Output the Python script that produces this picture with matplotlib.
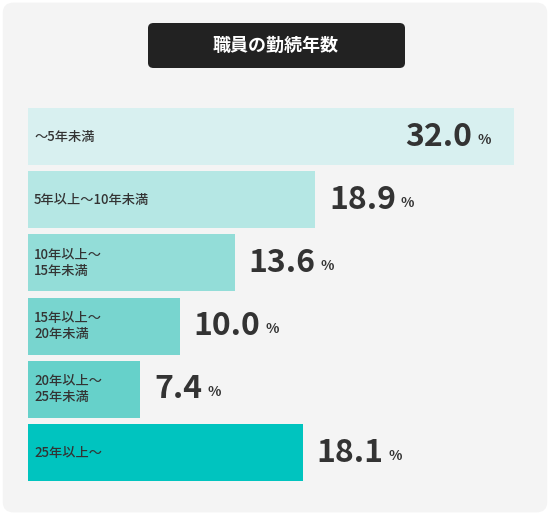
import matplotlib.pyplot as plt
from matplotlib.patches import FancyBboxPatch

plt.rcParams['font.family'] = ['Noto Sans CJK JP', 'DejaVu Sans']

labels = ['〜5年未満', '5年以上〜10年未満', '10年以上〜\n15年未満', '15年以上〜\n20年未満', '20年以上〜\n25年未満', '25年以上〜']
values = [32.0, 18.9, 13.6, 10.0, 7.4, 18.1]
colors = ['#d8f0f0', '#b5e7e4', '#93ddd8', '#78d5cf', '#66d1ca', '#00c4bf']

W, H = 550, 515
fig = plt.figure(figsize=(W / 100, H / 100), dpi=100)
fig.patch.set_facecolor('white')
bg = FancyBboxPatch((0.005, 0.005), 0.99, 0.99, boxstyle='round,pad=0,rounding_size=0.02',
                    transform=fig.transFigure, facecolor='#f4f4f4', edgecolor='none', zorder=-5)
fig.patches.append(bg)
tb = FancyBboxPatch((148 / W, 1 - 68 / H), 257 / W, 45 / H, boxstyle='round,pad=0,rounding_size=0.01',
                    transform=fig.transFigure, facecolor='#222222', edgecolor='none', zorder=-4)
fig.patches.append(tb)

ax = fig.add_axes([0, 0, 1, 1])
ax.set_facecolor('none')
px = 486 / 32.0
step = 63.2
ax.set_xlim(-28 / px, (W - 28) / px)
ax.set_ylim((H - 136.5) / step, -136.5 / step)
ax.axis('off')

ys = list(range(len(values)))
ax.barh(ys, values, height=57 / step, color=colors)

fig.canvas.draw()
r = fig.canvas.get_renderer()
for y, v, lab in zip(ys, values, labels):
    ax.text(0.4, y, lab, va='center', ha='left', fontsize=9.5, color='#333333',
            fontweight='medium', linespacing=1.15)
    if y == 0:
        t = ax.annotate(f'{v:.1f}', (v, y), xytext=(-30, 0), textcoords='offset points',
                        ha='right', va='center', fontsize=23, fontweight='bold', color='#333333')
    else:
        t = ax.annotate(f'{v:.1f}', (v, y), xytext=(10, 0), textcoords='offset points',
                        ha='left', va='center', fontsize=23, fontweight='bold', color='#333333')
    bb = t.get_window_extent(r)
    fig.text((bb.x1 + 5) / W, (bb.y0 + 6) / H, '%', fontsize=10, fontweight='bold',
             color='#333333', ha='left', va='bottom')

fig.text(276 / W, 1 - 45 / H, '職員の勤続年数', ha='center', va='center', fontsize=13,
         fontweight='bold', color='white')
fig.savefig('out.png', dpi=100)
